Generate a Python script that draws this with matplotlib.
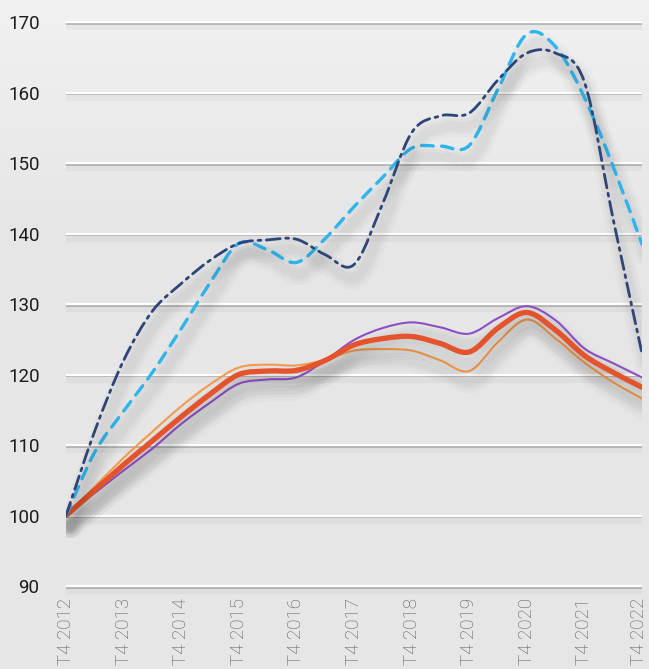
import numpy as np
import matplotlib
matplotlib.use('Agg')
import matplotlib.pyplot as plt
import matplotlib.transforms as mtransforms
from matplotlib.path import Path
from matplotlib.patches import PathPatch
import matplotlib.patheffects as pe

# half-year steps, T4 2012 -> T4 2022
t = np.arange(2012, 2022.01, 0.5)
years = list(range(2012, 2023))
tick_labels = [f'T4 {y}' for y in years]
yticks = list(range(90, 171, 10))

navy = [100, 112, 122, 129, 132.9, 136.2, 138.6, 139.1, 139.2, 137.0, 135.6,
        144.3, 154.3, 156.7, 157.1, 161.8, 165.6, 165.6, 161.5, 142.0, 123.0]
sky = [100, 109, 114.8, 120.3, 126.5, 133.0, 138.6, 137.7, 135.9, 139.3, 143.8,
       148.0, 152.1, 152.4, 152.5, 160.5, 168.3, 166.5, 159.3, 149.5, 138.5]
orange = [100, 103.6, 107.2, 110.6, 114.0, 117.2, 120.0, 120.5, 120.6, 122.0, 124.2,
          125.1, 125.4, 124.4, 123.2, 126.6, 128.8, 126.3, 122.7, 120.3, 118.2]
light_orange = [100, 104.1, 108.2, 111.9, 115.5, 118.6, 121.0, 121.4, 121.3, 122.1, 123.4,
                123.6, 123.4, 122.0, 120.5, 124.6, 127.8, 125.1, 121.7, 118.9, 116.6]
purple = [100, 103.2, 106.4, 109.5, 113.0, 116.0, 118.7, 119.3, 119.6, 122.0, 124.9,
          126.6, 127.4, 126.7, 125.8, 128.0, 129.7, 127.7, 123.7, 121.6, 119.6]


def smooth_path(x, y):
    # Catmull-Rom through the points, written as cubic Bezier segments
    pts = np.column_stack([x, y]).astype(float)
    p = np.vstack([pts[0], pts, pts[-1]])
    verts = [pts[0]]
    codes = [Path.MOVETO]
    for i in range(1, len(p) - 2):
        c1 = p[i] + (p[i + 1] - p[i - 1]) / 6
        c2 = p[i + 1] - (p[i + 2] - p[i]) / 6
        verts += [c1, c2, p[i + 1]]
        codes += [Path.CURVE4] * 3
    return Path(verts, codes)


def shadow(lw):
    # stacked faint strokes standing in for a blurred drop shadow
    fx = []
    for w, a in [(lw + 14, 0.018), (lw + 9, 0.022), (lw + 5, 0.025)]:
        fx.append(pe.SimpleLineShadow(offset=(3, -8), shadow_color='k', alpha=a, linewidth=w))
    fx.append(pe.Normal())
    return fx


fig = plt.figure(figsize=(6.49, 6.69), dpi=100)

# soft grey background, a touch lighter at the top
bg = fig.add_axes([0, 0, 1, 1])
grad = np.linspace(0, 1, 256).reshape(-1, 1)
top = np.array([0.945, 0.945, 0.945])
bot = np.array([0.905, 0.905, 0.905])
img = top + (bot - top) * np.clip(grad * 3, 0, 1)[..., None]
bg.imshow(np.repeat(img, 2, axis=1), aspect='auto', extent=[0, 1, 0, 1])
bg.axis('off')

ax = fig.add_axes([66 / 649, (669 - 598) / 669, 576 / 649, 590 / 669])
ax.set_facecolor('none')
ax.set_xlim(2012, 2022)
ax.set_ylim(88.3, 172)

# embossed gridlines
for v in yticks:
    ax.plot([2012, 2022], [v, v], color='white', lw=1.6, solid_capstyle='butt', zorder=1,
            path_effects=[pe.SimpleLineShadow(offset=(0, -3), shadow_color='k', alpha=0.03, linewidth=6),
                          pe.SimpleLineShadow(offset=(0, -1.3), shadow_color='#888888', alpha=0.55, linewidth=1.3),
                          pe.Normal()])

series = [
    (light_orange, '#f39a4c', 1.5, '-'),
    (purple, '#8d4fc4', 1.5, '-'),
    (orange, '#e4532b', 3.8, '-'),
    (sky, '#2fb5ec', 2.4, (0, (3.5, 2.5))),
    (navy, '#2e4578', 2.0, (0, (5, 2, 1, 2))),
]
for vals, col, lw, ls in series:
    patch = PathPatch(smooth_path(t, vals), fill=False, edgecolor=col, lw=lw,
                      linestyle=ls, capstyle='round', zorder=3)
    patch.set_path_effects(shadow(lw))
    ax.add_patch(patch)

for s in ax.spines.values():
    s.set_visible(False)

ax.set_yticks(yticks)
ax.set_yticklabels([str(v) for v in yticks], fontsize=13.5, color='#1c1c1c',
                   family='Roboto')
ax.set_xticks(years)
xlabels = ax.set_xticklabels(tick_labels, rotation=90, fontsize=13.5, color='#5a5a5a',
                             family='Roboto', fontweight='light', va='top', ha='center')
ax.tick_params(axis='y', length=0, pad=19)
ax.tick_params(axis='x', length=0, pad=0)

# keep the last date label inside the figure
last = xlabels[-1]
last.set_transform(last.get_transform() +
                   mtransforms.ScaledTranslation(-3 / 100, 0, fig.dpi_scale_trans))

fig.savefig('out.png', dpi=100)
